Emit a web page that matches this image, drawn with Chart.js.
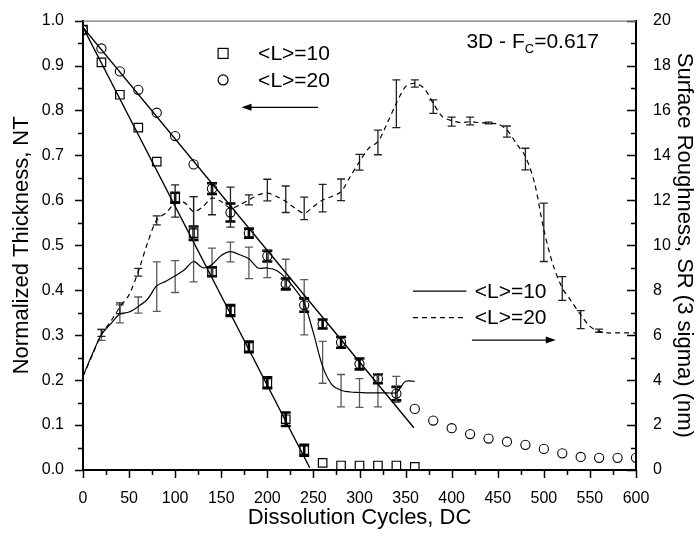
<!DOCTYPE html>
<html>
<head>
<meta charset="utf-8">
<title>Thickness and roughness vs dissolution cycles</title>
<script src="https://cdn.jsdelivr.net/npm/chart.js@4.4.0/dist/chart.umd.min.js"></script>
<style>
  html, body { margin: 0; padding: 0; background: #fff; }
  #wrap { width: 698px; height: 537px; }
</style>
</head>
<body>
<div id="wrap"><canvas id="chart"></canvas></div>
<script>
// Normalized thickness (left axis), sampled every 20 cycles
const ntCycles = [0, 20, 40, 60, 80, 100, 120, 140, 160, 180, 200, 220, 240, 260, 280, 300,
  320, 340, 360, 380, 400, 420, 440, 460, 480, 500, 520, 540, 560, 580, 600];
const ntL10 = [0.980, 0.907, 0.835, 0.762, 0.686, 0.606, 0.527, 0.441, 0.355, 0.274, 0.194,
  0.113, 0.044, 0.016, 0.010, 0.010, 0.010, 0.010, 0.007];
const ntL10Err = [0, 0, 0, 0, 0, 0.011, 0.015, 0.010, 0.012, 0.012, 0.012, 0.015, 0.012,
  0, 0, 0, 0, 0, 0];
const ntL20 = [0.979, 0.938, 0.887, 0.846, 0.795, 0.743, 0.680, 0.626, 0.573, 0.527, 0.476,
  0.414, 0.367, 0.325, 0.284, 0.236, 0.203, 0.170, 0.136, 0.110, 0.093, 0.080, 0.070, 0.063,
  0.056, 0.047, 0.037, 0.029, 0.027, 0.027, 0.027];
const ntL20Err = [0, 0, 0, 0, 0, 0, 0, 0.012, 0.020, 0.010, 0.012, 0.012, 0.015, 0.010,
  0.012, 0.012, 0.010, 0.015, 0, 0, 0, 0, 0, 0, 0, 0, 0, 0, 0, 0, 0];

// Linear fits of the thickness decay: [start, end] points
const fitL10 = [{ x: 0, y: 0.985 }, { x: 246, y: 0.005 }];
const fitL20 = [{ x: 0, y: 0.985 }, { x: 359, y: 0.094 }];

// Surface roughness curves (right axis, nm)
const srL10Cycles = [0, 10, 20, 30, 40, 50, 60, 70, 80, 90, 100, 110, 120, 130, 140, 150, 160,
  170, 180, 190, 200, 210, 220, 230, 240, 250, 260, 270, 280, 290, 300, 310, 320, 330, 340,
  345, 350, 360];
const srL10 = [4.17, 5.15, 6.02, 6.50, 6.94, 7.03, 7.28, 7.60, 8.20, 8.40, 8.64, 8.91, 9.28,
  9.00, 9.15, 9.55, 9.72, 9.58, 9.40, 8.99, 8.99, 8.88, 8.54, 8.05, 7.43, 6.10, 4.61, 3.80,
  3.55, 3.47, 3.45, 3.43, 3.43, 3.43, 3.45, 3.70, 3.95, 3.95];
const srL20Cycles = [0, 10, 20, 30, 40, 50, 60, 70, 80, 90, 100, 110, 120, 130, 140, 150, 160,
  170, 180, 190, 200, 210, 220, 230, 240, 250, 260, 270, 280, 290, 300, 310, 320, 330, 340,
  350, 360, 370, 380, 390, 400, 410, 420, 430, 440, 450, 460, 470, 480, 490, 500, 510, 520,
  530, 540, 550, 560, 570, 580, 590, 600];
const srL20 = [4.17, 5.10, 6.05, 6.61, 7.25, 7.80, 8.84, 10.10, 11.13, 11.44, 11.88, 11.90,
  11.50, 11.72, 12.10, 11.95, 11.65, 11.80, 12.02, 12.24, 12.32, 12.17, 11.95, 11.65, 11.43,
  11.72, 12.02, 12.17, 12.39, 13.06, 13.72, 14.32, 14.61, 15.43, 16.32, 17.06, 17.21, 16.99,
  16.32, 15.72, 15.55, 15.46, 15.50, 15.46, 15.43, 15.40, 15.13, 14.54, 13.95, 12.76, 10.69,
  9.13, 8.10, 7.50, 6.91, 6.39, 6.17, 6.10, 6.10, 6.10, 6.10];

// Roughness error bars, every 20 cycles
const srL10BarCycles = [20, 40, 60, 80, 100, 120, 140, 160, 180, 200, 220, 240, 260, 280,
  300, 320, 340];
const srL10Bar = [6.02, 6.95, 7.34, 8.16, 8.61, 10.27, 9.24, 9.70, 9.22, 9.18, 8.76, 7.24,
  4.79, 3.53, 3.43, 3.55, 3.59];
const srL10BarErr = [0.25, 0.40, 0.36, 1.10, 0.71, 1.90, 0.63, 0.44, 0.70, 0.62, 0.62, 1.23,
  0.93, 0.72, 0.64, 0.74, 0.58];
const srL20BarCycles = [20, 40, 60, 80, 100, 120, 140, 160, 180, 200, 220, 240, 260, 280,
  300, 320, 340, 360, 380, 400, 420, 440, 460, 480, 500, 520, 540, 560];
const srL20Bar = [6.10, 7.20, 8.80, 11.11, 11.97, 11.50, 12.06, 11.70, 12.02, 12.46, 12.05,
  11.64, 12.10, 12.47, 13.70, 14.58, 16.30, 17.20, 16.17, 15.50, 15.53, 15.44, 15.06, 13.84,
  10.58, 8.08, 6.69, 6.20];
const srL20BarErr = [0.15, 0.24, 0.17, 0.20, 0.72, 0.67, 0.70, 0.89, 0.22, 0.48, 0.59, 0.50,
  0.61, 0.48, 0.35, 0.55, 1.06, 0.16, 0.30, 0.20, 0.17, 0.04, 0.25, 0.48, 1.30, 0.53, 0.40,
  0.07];

// Axis ranges and tick labels
const xRange = [0, 600];
const ntRange = [0, 1.0];
const srRange = [0, 20];
const xTickLabels = ['0', '50', '100', '150', '200', '250', '300', '350', '400', '450', '500', '550', '600'];
const ntTickLabels = ['0.0', '0.1', '0.2', '0.3', '0.4', '0.5', '0.6', '0.7', '0.8', '0.9', '1.0'];
const srTickLabels = ['0', '2', '4', '6', '8', '10', '12', '14', '16', '18', '20'];

const FONT = "'Liberation Sans', Arial, Helvetica, sans-serif";

const zip = (xs, ys) => ys.map((y, i) => ({ x: xs[i], y: y }));

// error bars, drawn under the markers
const errorBars = {
  id: 'errorBars',
  beforeDatasetsDraw(chart) {
    const ctx = chart.ctx;
    chart.data.datasets.forEach((ds, i) => {
      if (!ds.errors) return;
      const xs = chart.scales.x;
      const ys = chart.scales[ds.yAxisID];
      ctx.save();
      ctx.strokeStyle = ds.errorColor;
      ctx.lineWidth = ds.errorWidth;
      ds.data.forEach((p, j) => {
        const e = ds.errors[j];
        if (!e) return;
        const px = xs.getPixelForValue(p.x);
        const top = ys.getPixelForValue(p.y + e);
        const bot = ys.getPixelForValue(p.y - e);
        const c = ds.capHalf;
        ctx.beginPath();
        ctx.moveTo(px, top); ctx.lineTo(px, bot);
        ctx.moveTo(px - c, top); ctx.lineTo(px + c, top);
        ctx.moveTo(px - c, bot); ctx.lineTo(px + c, bot);
        ctx.stroke();
      });
      ctx.restore();
    });
  }
};

// tick marks: bottom and left point out, right axis points in
const axisTicks = {
  id: 'axisTicks',
  afterDraw(chart) {
    const ctx = chart.ctx;
    const a = chart.chartArea;
    const { x, yNT, ySR } = chart.scales;
    ctx.save();
    ctx.strokeStyle = '#000';
    ctx.lineWidth = 1.5;
    ctx.beginPath();
    x.ticks.forEach(t => {
      const p = Math.round(x.getPixelForValue(t.value)) + 0.5;
      const len = t.value % 50 === 0 ? 8 : 5;
      ctx.moveTo(p, a.bottom); ctx.lineTo(p, a.bottom + len);
    });
    yNT.ticks.forEach(t => {
      const p = Math.round(yNT.getPixelForValue(t.value)) + 0.5;
      const len = Math.round(t.value * 100) % 10 === 0 ? 8 : 5;
      ctx.moveTo(a.left, p); ctx.lineTo(a.left - len, p);
    });
    ySR.ticks.forEach(t => {
      const p = Math.round(ySR.getPixelForValue(t.value)) + 0.5;
      const len = t.value % 2 === 0 ? 9 : 5;
      ctx.moveTo(a.right, p); ctx.lineTo(a.right - len, p);
    });
    ctx.stroke();
    // top frame
    ctx.strokeStyle = '#777';
    ctx.lineWidth = 1.2;
    ctx.beginPath();
    ctx.moveTo(a.left, a.top + 0.5); ctx.lineTo(a.right, a.top + 0.5);
    ctx.stroke();
    ctx.restore();
  }
};

// in-plot legends, arrows and the label in the corner
const notes = {
  id: 'notes',
  afterDraw(chart) {
    const ctx = chart.ctx;
    const { x, yNT } = chart.scales;
    const X = v => x.getPixelForValue(v);
    const Y = v => yNT.getPixelForValue(v);
    ctx.save();
    ctx.fillStyle = '#000';
    ctx.strokeStyle = '#000';
    ctx.textBaseline = 'middle';
    ctx.font = '21px ' + FONT;

    // marker legend
    ctx.lineWidth = 1.2;
    ctx.strokeRect(X(152) - 5, Y(0.927) - 5, 10, 10);
    ctx.beginPath();
    ctx.arc(X(152), Y(0.868), 5, 0, Math.PI * 2);
    ctx.stroke();
    ctx.fillText('<L>=10', X(190), Y(0.925));
    ctx.fillText('<L>=20', X(190), Y(0.866));

    // line legend
    ctx.beginPath();
    ctx.moveTo(X(358), Y(0.398)); ctx.lineTo(X(416), Y(0.398));
    ctx.stroke();
    ctx.setLineDash([5, 4]);
    ctx.beginPath();
    ctx.moveTo(X(358), Y(0.339)); ctx.lineTo(X(416), Y(0.339));
    ctx.stroke();
    ctx.setLineDash([]);
    ctx.fillText('<L>=10', X(425), Y(0.396));
    ctx.fillText('<L>=20', X(425), Y(0.337));

    // arrows toward the matching axis
    const arrow = (x0, x1, y) => {
      const dir = Math.sign(x1 - x0);
      ctx.lineWidth = 1.3;
      ctx.beginPath();
      ctx.moveTo(X(x0), Y(y)); ctx.lineTo(X(x1) - dir * 6, Y(y));
      ctx.stroke();
      ctx.beginPath();
      ctx.moveTo(X(x1), Y(y));
      ctx.lineTo(X(x1) - dir * 10, Y(y) - 3.5);
      ctx.lineTo(X(x1) - dir * 10, Y(y) + 3.5);
      ctx.closePath();
      ctx.fill();
    };
    arrow(255, 172, 0.807);
    arrow(422, 513, 0.289);

    // corner label with subscript
    ctx.textBaseline = 'alphabetic';
    let cx = X(416);
    const by = Y(0.938);
    ctx.font = '21px ' + FONT;
    ctx.fillText('3D - F', cx, by);
    cx += ctx.measureText('3D - F').width;
    ctx.font = '13px ' + FONT;
    ctx.fillText('C', cx, by + 5);
    cx += ctx.measureText('C').width;
    ctx.font = '21px ' + FONT;
    ctx.fillText('=0.617', cx, by);
    ctx.restore();
  }
};

const tickFont = { family: FONT, size: 16 };
const titleFont = { family: FONT, size: 22 };

new Chart(document.getElementById('chart'), {
  type: 'scatter',
  data: {
    datasets: [
      {
        label: 'NT <L>=10',
        data: zip(ntCycles, ntL10),
        errors: ntL10Err, errorColor: '#000', errorWidth: 2.6, capHalf: 5,
        yAxisID: 'yNT',
        pointStyle: 'rect', pointRadius: 6, pointHoverRadius: 6,
        borderColor: '#000', backgroundColor: 'rgba(0,0,0,0)', borderWidth: 1.2,
        showLine: false
      },
      {
        label: 'NT <L>=20',
        data: zip(ntCycles, ntL20),
        errors: ntL20Err, errorColor: '#000', errorWidth: 2.6, capHalf: 5,
        yAxisID: 'yNT',
        pointStyle: 'circle', pointRadius: 4.6, pointHoverRadius: 4.6,
        borderColor: '#000', backgroundColor: 'rgba(0,0,0,0)', borderWidth: 1.1,
        showLine: false
      },
      {
        label: 'fit <L>=10',
        data: fitL10, yAxisID: 'yNT',
        showLine: true, pointRadius: 0, borderColor: '#000', borderWidth: 1.4
      },
      {
        label: 'fit <L>=20',
        data: fitL20, yAxisID: 'yNT',
        showLine: true, pointRadius: 0, borderColor: '#000', borderWidth: 1.4
      },
      {
        label: 'SR <L>=10',
        data: zip(srL10Cycles, srL10), yAxisID: 'ySR',
        showLine: true, pointRadius: 0, borderColor: '#000', borderWidth: 1.2, tension: 0.3
      },
      {
        label: 'SR <L>=20',
        data: zip(srL20Cycles, srL20), yAxisID: 'ySR',
        showLine: true, pointRadius: 0, borderColor: '#000', borderWidth: 1.2, tension: 0.3,
        borderDash: [5, 4]
      },
      {
        label: 'SR <L>=10 spread',
        data: zip(srL10BarCycles, srL10Bar), yAxisID: 'ySR',
        errors: srL10BarErr, errorColor: '#5a5a5a', errorWidth: 1.3, capHalf: 4,
        showLine: false, pointRadius: 0
      },
      {
        label: 'SR <L>=20 spread',
        data: zip(srL20BarCycles, srL20Bar), yAxisID: 'ySR',
        errors: srL20BarErr, errorColor: '#222', errorWidth: 1.3, capHalf: 4,
        showLine: false, pointRadius: 0
      }
    ]
  },
  options: {
    responsive: true,
    maintainAspectRatio: false,
    animation: false,
    events: [],
    layout: { padding: { top: 20, left: 0, right: 0, bottom: 0 } },
    plugins: { legend: { display: false }, tooltip: { enabled: false } },
    scales: {
      x: {
        type: 'linear', position: 'bottom',
        min: xRange[0], max: xRange[1],
        afterFit: s => { s.height = 67; },
        grid: { display: false },
        border: { display: true, color: '#000', width: 2 },
        ticks: {
          stepSize: 25, autoSkip: false, maxRotation: 0, padding: 11,
          color: '#000', font: tickFont,
          callback: v => (v % 50 === 0 ? xTickLabels[v / 50] : '')
        },
        title: {
          display: true, text: 'Dissolution Cycles, DC', color: '#000', font: titleFont,
          padding: { top: 0, bottom: 6 }
        }
      },
      yNT: {
        type: 'linear', position: 'left',
        min: ntRange[0], max: ntRange[1],
        afterFit: s => { s.width = 83; },
        grid: { display: false },
        border: { display: true, color: '#000', width: 2 },
        ticks: {
          stepSize: 0.05, autoSkip: false, padding: 11,
          color: '#000', font: tickFont,
          callback: v => {
            const k = Math.round(v * 100);
            return k % 10 === 0 ? ntTickLabels[k / 10] : '';
          }
        },
        title: {
          display: true, text: 'Normalized Thickness, NT', color: '#000', font: titleFont,
          padding: { top: 9, bottom: 0 }
        }
      },
      ySR: {
        type: 'linear', position: 'right',
        min: srRange[0], max: srRange[1],
        afterFit: s => { s.width = 62; },
        grid: { display: false },
        border: { display: true, color: '#000', width: 2 },
        ticks: {
          stepSize: 1, autoSkip: false, padding: 9,
          color: '#000', font: tickFont,
          callback: v => (v % 2 === 0 ? srTickLabels[v / 2] : '')
        },
        title: {
          display: true, text: 'Surface Roughness, SR (3 sigma) (nm)', color: '#000',
          font: titleFont, padding: { top: 1, bottom: 0 }
        }
      }
    }
  },
  plugins: [errorBars, axisTicks, notes]
});
</script>
</body>
</html>
